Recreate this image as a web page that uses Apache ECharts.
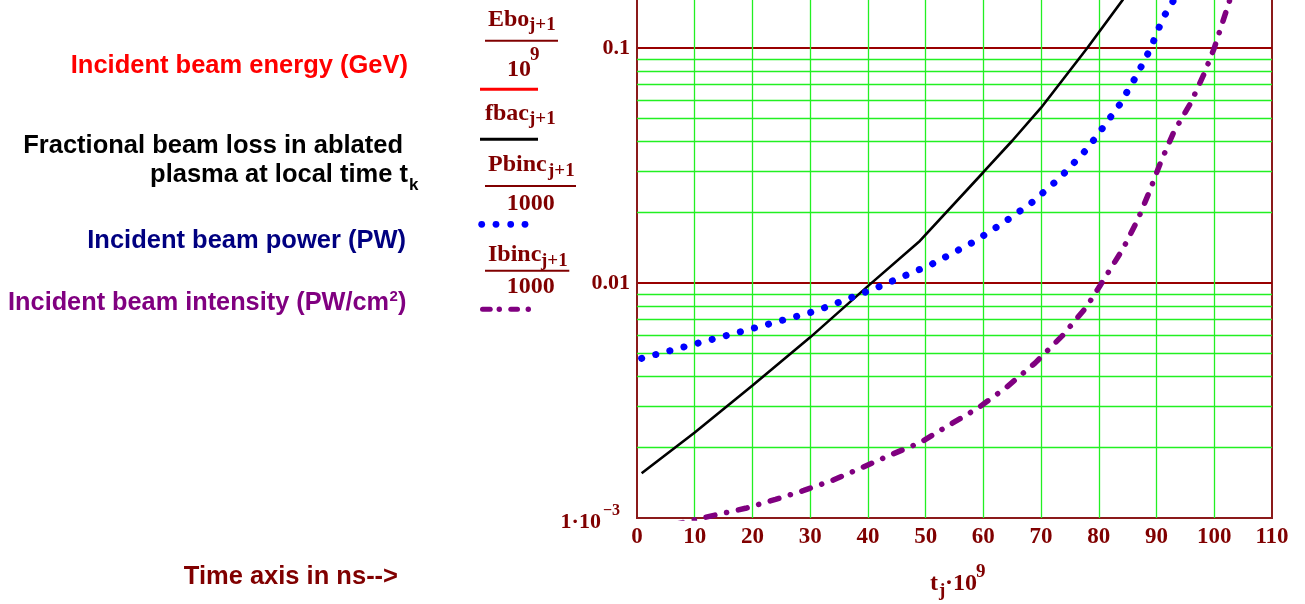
<!DOCTYPE html>
<html>
<head>
<meta charset="utf-8">
<title>Beam energy, loss, power and intensity vs time</title>
<script src="https://cdn.jsdelivr.net/npm/echarts@6/dist/echarts.min.js"></script>
<style>
  html, body { margin: 0; padding: 0; background: #ffffff; }
  #chart { width: 1305px; height: 604px; }
</style>
</head>
<body>
<div id="chart"></div>
<script>
// ---- data: time in ns, values on a log scale ----
// fractional beam loss in ablated plasma, fbac(j+1)
const fbacTime   = [0.8, 10, 20, 30, 40, 49, 60, 65, 70, 78, 84.2];
const fbacValues = [0.00155, 0.00231, 0.00366, 0.00587, 0.0097, 0.0151, 0.0296, 0.0403, 0.0557, 0.100, 0.161];

// incident beam power, Pbinc(j+1)/1000 (PW)
const pbincTime   = [0.8, 11, 21, 31, 41, 51, 58.4, 63.4, 68.4, 73.3, 78, 80, 83.6, 86.5, 89, 91.1, 93.5];
const pbincValues = [0.00478, 0.00558, 0.0065, 0.0076, 0.00943, 0.0120, 0.0150, 0.0180, 0.0220, 0.0281,
                     0.0373, 0.0434, 0.0574, 0.076, 0.100, 0.134, 0.168];

// incident beam intensity, Ibinc(j+1)/1000 (PW/cm^2)
const ibincTime   = [0.8, 11.3, 18.8, 24, 28.9, 34, 39, 43.8, 49, 53.9, 59.1, 64, 68.9, 73.7, 77.9,
                     80.2, 84.2, 86.7, 88.8, 90.7, 93, 95.9, 98.2, 100, 101.8, 103.2];
const ibincValues = [0.00087, 0.00100, 0.00110, 0.00120, 0.00131, 0.00145, 0.00164, 0.00185, 0.00209,
                     0.00247, 0.00294, 0.00360, 0.00455, 0.00597, 0.00793, 0.00974, 0.0140, 0.0185,
                     0.0246, 0.0326, 0.044, 0.0582, 0.0773, 0.100, 0.137, 0.175];

// axis ranges and grid levels
const timeRange = [0, 110];
const timeStep = 10;
const valueRange = [0.001, 1];
const timeGridLines = [10, 20, 30, 40, 50, 60, 70, 80, 90, 100];
const minorLevels = [0.002, 0.003, 0.004, 0.005, 0.006, 0.007, 0.008, 0.009,
                     0.02, 0.03, 0.04, 0.05, 0.06, 0.07, 0.08, 0.09];

// ---- styling ----
const MAROON = '#800000';
const FRAME = '#8b1a1a';
const GRID_GREEN = '#22f022';
const SERIF = '"Liberation Serif", "Times New Roman", serif';
const SANS = '"Liberation Sans", Arial, sans-serif';

const pairs = (xs, ys) => xs.map((x, i) => [x, ys[i]]);

function sText(text, x, y, size, opts) {
  return {
    type: 'text', silent: true, z: 10,
    style: Object.assign({
      text: text, x: x, y: y,
      font: 'bold ' + size + 'px ' + SERIF,
      fill: MAROON, align: 'left', verticalAlign: 'middle'
    }, opts || {})
  };
}
function aText(text, x, y, size, color, align) {
  return {
    type: 'text', silent: true, z: 10,
    style: {
      text: text, x: x, y: y,
      font: 'bold ' + size + 'px ' + SANS,
      fill: color, align: align || 'right', verticalAlign: 'middle'
    }
  };
}
function hLine(x1, x2, y, color, w) {
  return { type: 'line', silent: true, z: 10,
    shape: { x1: x1, y1: y, x2: x2, y2: y },
    style: { stroke: color, lineWidth: w, lineCap: 'butt' } };
}
function dot(cx, cy, r, color) {
  return { type: 'circle', silent: true, z: 10,
    shape: { cx: cx, cy: cy, r: r }, style: { fill: color } };
}

const graphics = [
  // descriptive labels on the left
  aText('Incident beam energy (GeV)', 408, 65.6, 25.5, '#ff0000'),
  aText('Fractional beam loss in ablated', 403, 145.6, 25.5, '#000000'),
  aText('plasma at local time t', 408, 174.6, 25.5, '#000000'),
  aText('k', 409, 185, 17, '#000000', 'left'),
  aText('Incident beam power (PW)', 406, 241.3, 25.5, '#000080'),
  aText('Incident beam intensity (PW/cm', 389, 303, 25.3, '#800080'),
  aText('2', 389.5, 297, 15, '#800080', 'left'),
  aText(')', 398, 303, 25.3, '#800080', 'left'),
  aText('Time axis in ns-->', 398, 577, 25.5, MAROON),

  // expression legend: Ebo(j+1)/10^9
  sText('Ebo', 488, 20.2, 24),
  sText('j+1', 529, 25.5, 19),
  hLine(485, 558, 40.7, MAROON, 2),
  sText('10', 507, 70.2, 24),
  sText('9', 530, 55.4, 19),
  hLine(480, 538, 89.3, '#ff0000', 3),

  // fbac(j+1)
  sText('fbac', 485, 113.6, 24),
  sText('j+1', 529, 119.2, 19),
  hLine(480, 538, 139.3, '#000000', 3),

  // Pbinc(j+1)/1000
  sText('Pbinc', 488, 165.2, 24),
  sText('j+1', 548, 171, 19),
  hLine(485, 576, 186, MAROON, 2),
  sText('1000', 506.7, 203.6, 24),
  dot(481.7, 224.3, 3.4, '#0000ff'),
  dot(496, 224.3, 3.4, '#0000ff'),
  dot(510.7, 224.3, 3.4, '#0000ff'),
  dot(525, 224.3, 3.4, '#0000ff'),

  // Ibinc(j+1)/1000
  sText('Ibinc', 488, 255.2, 24),
  sText('j+1', 541, 261, 19),
  hLine(485, 569.3, 270.7, MAROON, 2),
  sText('1000', 506.7, 286.9, 24),
  { type: 'line', silent: true, z: 10, shape: { x1: 482.5, y1: 309.3, x2: 490.2, y2: 309.3 },
    style: { stroke: '#800080', lineWidth: 5, lineCap: 'round' } },
  dot(499.3, 309.3, 2.7, '#800080'),
  { type: 'line', silent: true, z: 10, shape: { x1: 510.8, y1: 309.3, x2: 517.5, y2: 309.3 },
    style: { stroke: '#800080', lineWidth: 5, lineCap: 'round' } },
  dot(528.3, 309.3, 2.7, '#800080'),

  // time axis title: t_j * 10^9
  sText('t', 930, 583.9, 24),
  sText('j', 939, 590.6, 19),
  sText('\u00b710', 945, 583.9, 24),
  sText('9', 976, 572.4, 19)
];

const chart = echarts.init(document.getElementById('chart'), null, { renderer: 'canvas' });

const option = {
  animation: false,
  backgroundColor: '#ffffff',
  grid: {
    left: 637, width: 635, top: -187, height: 705,
    show: true, borderColor: FRAME, borderWidth: 2,
    containLabel: false, outerBoundsMode: 'none'
  },
  xAxis: {
    type: 'value', min: timeRange[0], max: timeRange[1], interval: timeStep,
    axisLine: { show: true, lineStyle: { color: FRAME, width: 2 } },
    axisTick: { show: false },
    splitLine: { show: false },
    axisLabel: {
      margin: 8, color: MAROON, fontFamily: SERIF, fontWeight: 'bold', fontSize: 23
    }
  },
  yAxis: {
    type: 'log', logBase: 10, min: valueRange[0], max: valueRange[1],
    axisLine: { show: true, onZero: false, lineStyle: { color: FRAME, width: 2 } },
    axisTick: { show: false },
    splitLine: { show: true, lineStyle: { color: '#990000', width: 2 } },
    axisLabel: {
      margin: 7, color: MAROON, fontFamily: SERIF, fontWeight: 'bold', fontSize: 22,
      formatter: function (v) {
        const e = Math.round(Math.log10(v));
        if (e <= -3) return '{b|1\u00b710}{sup|\u2212' + (-e) + '}';
        return e === 0 ? '1' : v.toPrecision(1).replace(/^0\./, '0.');
      },
      rich: {
        b: { fontSize: 22, fontFamily: SERIF, fontWeight: 'bold', color: MAROON, verticalAlign: 'bottom' },
        sup: { fontSize: 16, fontFamily: SERIF, fontWeight: 'bold', color: MAROON,
               verticalAlign: 'bottom', padding: [0, 10, 14, 2] }
      }
    }
  },
  series: [
    {
      // light grid: minor decade levels and time lines
      type: 'line', name: 'grid', data: [[timeRange[0], valueRange[0]]],
      symbol: 'none', silent: true, z: 1, lineStyle: { opacity: 0 },
      markLine: {
        silent: true, symbol: 'none', animation: false, precision: 6,
        label: { show: false },
        lineStyle: { color: GRID_GREEN, width: 1.3, type: 'solid' },
        emphasis: { disabled: true },
        data: minorLevels.map(v => ({ yAxis: v })).concat(timeGridLines.map(t => ({ xAxis: t })))
      }
    },
    {
      type: 'line', name: 'fbac', data: pairs(fbacTime, fbacValues),
      symbol: 'none', clip: true, z: 5,
      lineStyle: { color: '#000000', width: 2.6 }
    },
    {
      type: 'line', name: 'Pbinc', data: pairs(pbincTime, pbincValues),
      symbol: 'none', clip: true, z: 5,
      lineStyle: { color: '#0000ff', width: 7, type: [0.1, 14.5], cap: 'round' }
    },
    {
      type: 'line', name: 'Ibinc', data: pairs(ibincTime, ibincValues),
      symbol: 'none', clip: true, z: 5,
      lineStyle: { color: '#800080', width: 5.5, type: [9, 12, 0.1, 12], cap: 'round' }
    }
  ],
  graphic: { elements: graphics }
};

chart.setOption(option);
</script>
</body>
</html>
